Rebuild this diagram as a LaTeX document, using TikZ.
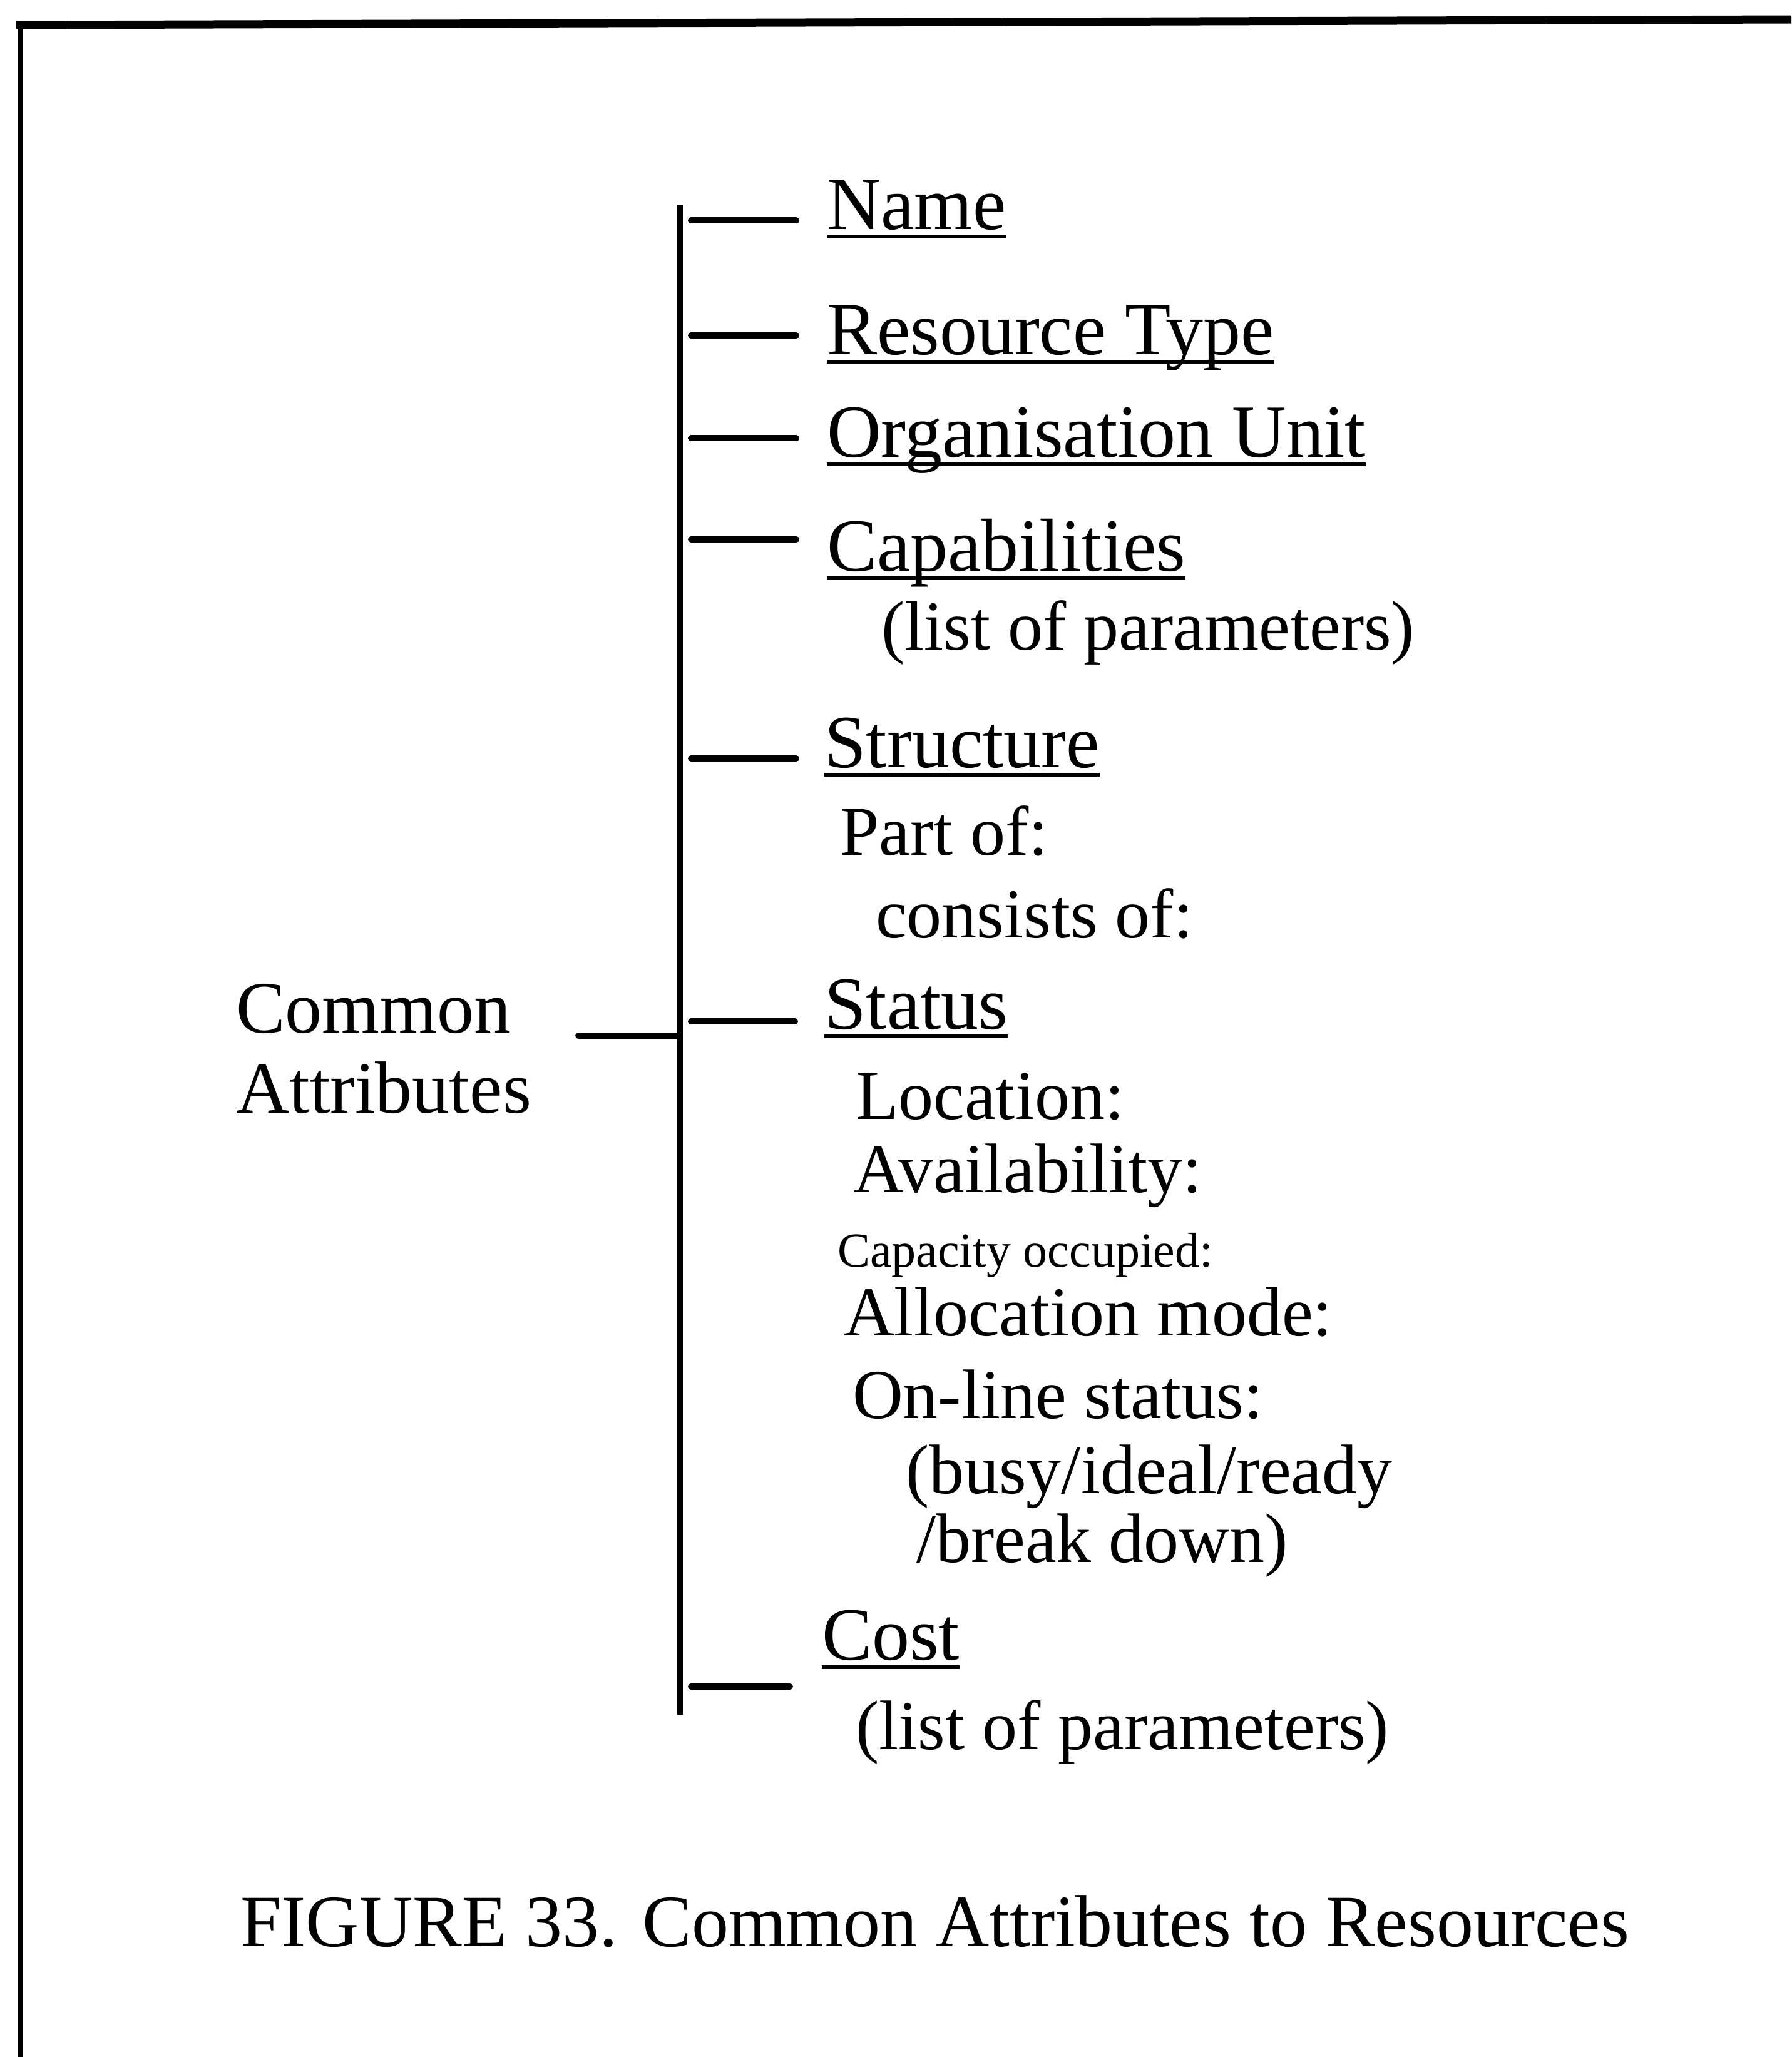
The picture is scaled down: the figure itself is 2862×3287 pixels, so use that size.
\documentclass[tikz,border=0pt]{standalone}
\usepackage{fontspec}
\setmainfont{Liberation Serif}
\usetikzlibrary{calc}
\begin{document}
\begin{tikzpicture}[x=0.25pt,y=-0.25pt,
  txt/.style={anchor=base west,inner sep=0pt,outer sep=0pt},
  head/.style={txt,font=\fontsize{30}{36}\selectfont},
  body/.style={txt,font=\fontsize{28}{34}\selectfont},
  tiny/.style={txt,font=\fontsize{19.5}{24}\selectfont},
  label/.style={txt,font=\fontsize{29.5}{36}\selectfont},
  branch/.style={line width=2.5pt,line cap=round},
  spine/.style={line width=2.25pt},
  uline/.style={line width=1.6pt}]
\fill[white] (0,0) rectangle (2862,3287);
\useasboundingbox (0,0) rectangle (2862,3287);

% open frame: top and left edges only
\draw[line width=3.25pt] (26,40) -- (2862,31);
\draw[line width=2pt] (32,36) -- (32,3287);

% attribute headings
\node[head] (name)   at (1321,366)  {Name};
\node[head] (rtype)  at (1321,566)  {Resource Type};
\node[head] (org)    at (1321,730)  {Organisation Unit};
\node[head] (cap)    at (1321,912)  {Capabilities};
\node[body] (capl)   at (1408,1038) {(list of parameters)};
\node[head] (struct) at (1317,1226) {Structure};
\node[body] (partof) at (1342,1366) {Part of:};
\node[body] (consist) at (1399,1498) {consists of:};
\node[head] (status) at (1317,1644) {Status};
\node[body] (loc)    at (1367,1788) {Location:};
\node[body] (avail)  at (1363,1905) {Availability:};
\node[tiny] (capoc)  at (1338,2024) {Capacity occupied:};
\node[body] (alloc)  at (1348,2134) {Allocation mode:};
\node[body] (online) at (1362,2266) {On-line status:};
\node[body] (busy)   at (1447,2386) {(busy/ideal/ready};
\node[body] (brk)    at (1464,2496) {/break down)};
\node[head] (cost)   at (1313,2652) {Cost};
\node[body] (costl)  at (1367,2795) {(list of parameters)};

% root label and caption
\node[label] (common) at (377,1650) {Common};
\node[label] (attr)   at (377,1778) {Attributes};
\node[label] (figcap) at (384,3110) {FIGURE 33. Common Attributes to Resources};

% underlines of the headings
\foreach \n in {name,rtype,org,cap,struct,status,cost}
  \draw[uline] ($(\n.base west)+(0,12)$) -- ($(\n.base east)+(0,12)$);

% spine of the tree
\coordinate (top) at (1086,328);
\coordinate (bot) at (1086,2740);
\draw[spine] (top) -- (bot);

% branches to the headings
\foreach \k/\y/\r in {a/352/1272,b/536/1272,c/700/1272,d/862/1272,e/1212/1272,f/1632/1270,g/2695/1262}{
  \coordinate (br\k L) at (1104,\y);
  \coordinate (br\k R) at (\r,\y);
  \draw[branch] (br\k L) -- (br\k R);
}

% root connector
\coordinate (comL) at (924,1655);
\draw[branch] (comL) -- (comL -| top);
\end{tikzpicture}
\end{document}
